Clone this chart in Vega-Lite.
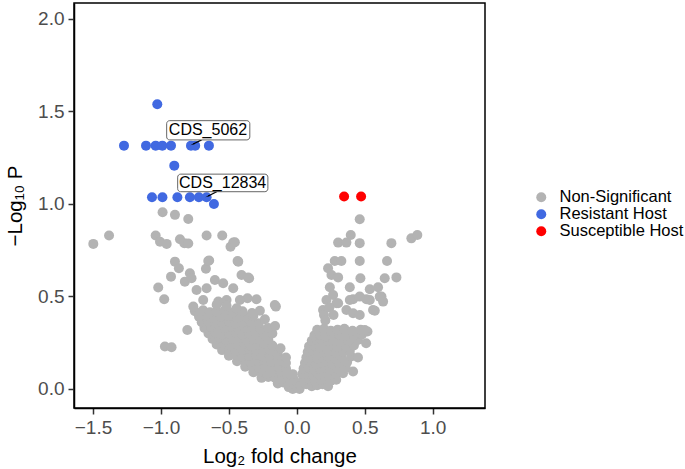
{
"$schema": "https://vega.github.io/schema/vega-lite/v6.json",
"autosize": {"type": "none"},
"padding": {"left": 74, "top": 3, "right": 200, "bottom": 61},
"width": 411,
"height": 405,
"config": {
  "view": {"stroke": "#000", "strokeWidth": 1.5},
  "font": "Liberation Sans",
  "axis": {"grid": false, "domain": true, "domainColor": "#000", "domainWidth": 1.5, "tickColor": "#333", "tickWidth": 1.5, "tickSize": 6, "labelFont": "Liberation Sans", "labelFontSize": 19, "labelColor": "#4D4D4D", "titleFont": "Liberation Sans", "titleFontSize": 20.5, "titleColor": "#000", "titleFontWeight": "normal"}
},
"datasets": {
"nonsig": [
{"lfc":-0.06,"nlp":0.01},{"lfc":-0.03,"nlp":0.0},{"lfc":0.0,"nlp":0.01},{"lfc":0.02,"nlp":0.0},
{"lfc":-0.14,"nlp":0.03},{"lfc":-0.1,"nlp":0.035},{"lfc":-0.06,"nlp":0.03},{"lfc":-0.02,"nlp":0.025},{"lfc":0.01,"nlp":0.03},
{"lfc":-0.26,"nlp":0.06},{"lfc":-0.21,"nlp":0.065},{"lfc":-0.16,"nlp":0.06},{"lfc":-0.11,"nlp":0.055},{"lfc":-0.06,"nlp":0.06},{"lfc":-0.02,"nlp":0.05},
{"lfc":-0.32,"nlp":0.09},{"lfc":-0.27,"nlp":0.095},{"lfc":-0.22,"nlp":0.085},{"lfc":-0.17,"nlp":0.09},{"lfc":-0.12,"nlp":0.095},{"lfc":-0.07,"nlp":0.085},{"lfc":-0.03,"nlp":0.08},
{"lfc":-0.38,"nlp":0.12},{"lfc":-0.33,"nlp":0.125},{"lfc":-0.28,"nlp":0.115},{"lfc":-0.23,"nlp":0.12},{"lfc":-0.18,"nlp":0.125},{"lfc":-0.13,"nlp":0.115},{"lfc":-0.08,"nlp":0.11},
{"lfc":-0.44,"nlp":0.15},{"lfc":-0.39,"nlp":0.155},{"lfc":-0.34,"nlp":0.145},{"lfc":-0.29,"nlp":0.15},{"lfc":-0.24,"nlp":0.155},{"lfc":-0.19,"nlp":0.145},{"lfc":-0.14,"nlp":0.15},{"lfc":-0.08,"nlp":0.14},
{"lfc":-0.5,"nlp":0.18},{"lfc":-0.45,"nlp":0.185},{"lfc":-0.4,"nlp":0.175},{"lfc":-0.35,"nlp":0.18},{"lfc":-0.3,"nlp":0.185},{"lfc":-0.25,"nlp":0.175},{"lfc":-0.2,"nlp":0.18},{"lfc":-0.14,"nlp":0.185},{"lfc":-0.08,"nlp":0.17},
{"lfc":-0.55,"nlp":0.21},{"lfc":-0.5,"nlp":0.215},{"lfc":-0.45,"nlp":0.205},{"lfc":-0.4,"nlp":0.21},{"lfc":-0.35,"nlp":0.215},{"lfc":-0.3,"nlp":0.205},{"lfc":-0.25,"nlp":0.21},{"lfc":-0.2,"nlp":0.215},{"lfc":-0.14,"nlp":0.205},
{"lfc":-0.59,"nlp":0.24},{"lfc":-0.54,"nlp":0.245},{"lfc":-0.49,"nlp":0.235},{"lfc":-0.44,"nlp":0.24},{"lfc":-0.39,"nlp":0.245},{"lfc":-0.34,"nlp":0.235},{"lfc":-0.29,"nlp":0.24},{"lfc":-0.24,"nlp":0.245},{"lfc":-0.18,"nlp":0.235},{"lfc":-0.12,"nlp":0.22},
{"lfc":-0.62,"nlp":0.27},{"lfc":-0.57,"nlp":0.275},{"lfc":-0.52,"nlp":0.265},{"lfc":-0.47,"nlp":0.27},{"lfc":-0.42,"nlp":0.275},{"lfc":-0.37,"nlp":0.265},{"lfc":-0.32,"nlp":0.27},{"lfc":-0.27,"nlp":0.275},{"lfc":-0.21,"nlp":0.265},
{"lfc":-0.65,"nlp":0.3},{"lfc":-0.6,"nlp":0.305},{"lfc":-0.55,"nlp":0.295},{"lfc":-0.5,"nlp":0.3},{"lfc":-0.45,"nlp":0.305},{"lfc":-0.4,"nlp":0.295},{"lfc":-0.35,"nlp":0.3},{"lfc":-0.3,"nlp":0.305},{"lfc":-0.24,"nlp":0.295},{"lfc":-0.18,"nlp":0.3},
{"lfc":-0.68,"nlp":0.33},{"lfc":-0.63,"nlp":0.335},{"lfc":-0.58,"nlp":0.325},{"lfc":-0.53,"nlp":0.33},{"lfc":-0.48,"nlp":0.335},{"lfc":-0.43,"nlp":0.325},{"lfc":-0.38,"nlp":0.33},{"lfc":-0.33,"nlp":0.335},{"lfc":-0.27,"nlp":0.325},{"lfc":-0.21,"nlp":0.33},{"lfc":-0.16,"nlp":0.34},
{"lfc":-0.7,"nlp":0.36},{"lfc":-0.65,"nlp":0.365},{"lfc":-0.6,"nlp":0.355},{"lfc":-0.55,"nlp":0.36},{"lfc":-0.5,"nlp":0.365},{"lfc":-0.45,"nlp":0.355},{"lfc":-0.4,"nlp":0.36},{"lfc":-0.34,"nlp":0.365},{"lfc":-0.28,"nlp":0.355},
{"lfc":-0.72,"nlp":0.39},{"lfc":-0.66,"nlp":0.395},{"lfc":-0.61,"nlp":0.385},{"lfc":-0.56,"nlp":0.39},{"lfc":-0.5,"nlp":0.395},{"lfc":-0.44,"nlp":0.385},{"lfc":-0.38,"nlp":0.39},{"lfc":-0.32,"nlp":0.395},
{"lfc":-0.75,"nlp":0.42},{"lfc":-0.69,"nlp":0.425},{"lfc":-0.64,"nlp":0.415},{"lfc":-0.59,"nlp":0.42},{"lfc":-0.53,"nlp":0.425},{"lfc":-0.47,"nlp":0.415},{"lfc":-0.4,"nlp":0.42},{"lfc":-0.33,"nlp":0.41},
{"lfc":-1.498,"nlp":0.784},{"lfc":-1.382,"nlp":0.829},{"lfc":-1.039,"nlp":0.829},{"lfc":-1.007,"nlp":0.796},{"lfc":-0.958,"nlp":0.784},{"lfc":-0.86,"nlp":0.809},{"lfc":-0.828,"nlp":0.788},{"lfc":-0.799,"nlp":0.786},{"lfc":-0.664,"nlp":0.829},{"lfc":-0.549,"nlp":0.829},{"lfc":-0.468,"nlp":0.791},{"lfc":-0.488,"nlp":0.769},
{"lfc":-0.897,"nlp":0.688},{"lfc":-0.868,"nlp":0.652},{"lfc":-0.645,"nlp":0.694},{"lfc":-0.669,"nlp":0.65},{"lfc":-0.431,"nlp":0.688},{"lfc":-0.926,"nlp":0.607},{"lfc":-0.787,"nlp":0.625},{"lfc":-0.407,"nlp":0.616},{"lfc":-0.351,"nlp":0.598},{"lfc":-1.02,"nlp":0.548},{"lfc":-0.976,"nlp":0.485},{"lfc":-0.806,"nlp":0.319},{"lfc":-0.971,"nlp":0.229},{"lfc":-0.922,"nlp":0.225},
{"lfc":-0.154,"nlp":0.445},{"lfc":-0.297,"nlp":0.485},{"lfc":-0.363,"nlp":0.49},{"lfc":-0.272,"nlp":0.423},{"lfc":-0.235,"nlp":0.377},{"lfc":-0.988,"nlp":0.955},{"lfc":-0.897,"nlp":0.941},{"lfc":-0.799,"nlp":0.919},{"lfc":-0.456,"nlp":0.793},{"lfc":-0.436,"nlp":0.692},{"lfc":-0.652,"nlp":0.692},{"lfc":-0.358,"nlp":0.602},{"lfc":-0.162,"nlp":0.454},
{"lfc":-0.824,"nlp":0.58},{"lfc":-0.775,"nlp":0.598},{"lfc":-0.738,"nlp":0.535},{"lfc":-0.664,"nlp":0.544},{"lfc":-0.603,"nlp":0.589},{"lfc":-0.542,"nlp":0.571},{"lfc":-0.468,"nlp":0.544},{"lfc":-0.762,"nlp":0.445},{"lfc":-0.689,"nlp":0.481},{"lfc":-0.578,"nlp":0.472},{"lfc":-0.517,"nlp":0.481},{"lfc":-0.419,"nlp":0.481},{"lfc":-0.59,"nlp":0.455},{"lfc":-0.517,"nlp":0.45},{"lfc":-0.443,"nlp":0.436},
{"lfc":0.03,"nlp":0.02},{"lfc":0.07,"nlp":0.025},{"lfc":0.11,"nlp":0.015},{"lfc":0.15,"nlp":0.02},{"lfc":0.19,"nlp":0.025},{"lfc":0.23,"nlp":0.015},
{"lfc":0.05,"nlp":0.05},{"lfc":0.09,"nlp":0.055},{"lfc":0.13,"nlp":0.045},{"lfc":0.17,"nlp":0.05},{"lfc":0.21,"nlp":0.055},{"lfc":0.25,"nlp":0.045},{"lfc":0.29,"nlp":0.05},
{"lfc":0.04,"nlp":0.08},{"lfc":0.08,"nlp":0.085},{"lfc":0.12,"nlp":0.075},{"lfc":0.16,"nlp":0.08},{"lfc":0.2,"nlp":0.085},{"lfc":0.24,"nlp":0.075},{"lfc":0.29,"nlp":0.08},{"lfc":0.34,"nlp":0.085},
{"lfc":0.05,"nlp":0.11},{"lfc":0.09,"nlp":0.115},{"lfc":0.13,"nlp":0.105},{"lfc":0.17,"nlp":0.11},{"lfc":0.21,"nlp":0.115},{"lfc":0.25,"nlp":0.105},{"lfc":0.3,"nlp":0.11},{"lfc":0.36,"nlp":0.115},{"lfc":0.414,"nlp":0.094},
{"lfc":0.06,"nlp":0.14},{"lfc":0.1,"nlp":0.145},{"lfc":0.14,"nlp":0.135},{"lfc":0.18,"nlp":0.14},{"lfc":0.22,"nlp":0.145},{"lfc":0.26,"nlp":0.135},{"lfc":0.31,"nlp":0.14},{"lfc":0.37,"nlp":0.145},
{"lfc":0.07,"nlp":0.17},{"lfc":0.11,"nlp":0.175},{"lfc":0.15,"nlp":0.165},{"lfc":0.19,"nlp":0.17},{"lfc":0.23,"nlp":0.175},{"lfc":0.28,"nlp":0.165},{"lfc":0.33,"nlp":0.17},{"lfc":0.4,"nlp":0.175},{"lfc":0.45,"nlp":0.17},
{"lfc":0.08,"nlp":0.2},{"lfc":0.12,"nlp":0.205},{"lfc":0.16,"nlp":0.195},{"lfc":0.2,"nlp":0.2},{"lfc":0.24,"nlp":0.205},{"lfc":0.29,"nlp":0.195},{"lfc":0.34,"nlp":0.2},{"lfc":0.39,"nlp":0.205},
{"lfc":0.09,"nlp":0.23},{"lfc":0.13,"nlp":0.235},{"lfc":0.17,"nlp":0.225},{"lfc":0.21,"nlp":0.23},{"lfc":0.25,"nlp":0.235},{"lfc":0.3,"nlp":0.225},{"lfc":0.36,"nlp":0.23},{"lfc":0.42,"nlp":0.235},
{"lfc":0.11,"nlp":0.26},{"lfc":0.15,"nlp":0.265},{"lfc":0.19,"nlp":0.255},{"lfc":0.23,"nlp":0.26},{"lfc":0.27,"nlp":0.265},{"lfc":0.32,"nlp":0.255},{"lfc":0.38,"nlp":0.26},{"lfc":0.45,"nlp":0.265},{"lfc":0.51,"nlp":0.247},
{"lfc":0.13,"nlp":0.29},{"lfc":0.17,"nlp":0.295},{"lfc":0.21,"nlp":0.285},{"lfc":0.26,"nlp":0.29},{"lfc":0.31,"nlp":0.295},{"lfc":0.36,"nlp":0.285},{"lfc":0.42,"nlp":0.29},{"lfc":0.48,"nlp":0.295},
{"lfc":0.15,"nlp":0.32},{"lfc":0.2,"nlp":0.325},{"lfc":0.25,"nlp":0.315},{"lfc":0.3,"nlp":0.32},{"lfc":0.35,"nlp":0.325},{"lfc":0.41,"nlp":0.315},{"lfc":0.47,"nlp":0.32},{"lfc":0.52,"nlp":0.31},
{"lfc":0.463,"nlp":0.917},{"lfc":0.397,"nlp":0.832},{"lfc":0.304,"nlp":0.791},{"lfc":0.365,"nlp":0.791},{"lfc":0.463,"nlp":0.788},{"lfc":0.696,"nlp":0.788},{"lfc":0.843,"nlp":0.814},{"lfc":0.887,"nlp":0.832},
{"lfc":0.279,"nlp":0.692},{"lfc":0.328,"nlp":0.692},{"lfc":0.463,"nlp":0.692},{"lfc":0.664,"nlp":0.692},{"lfc":0.23,"nlp":0.652},{"lfc":0.255,"nlp":0.616},{"lfc":0.304,"nlp":0.603},{"lfc":0.468,"nlp":0.598},{"lfc":0.647,"nlp":0.598},{"lfc":0.733,"nlp":0.603},
{"lfc":0.243,"nlp":0.55},{"lfc":0.39,"nlp":0.55},{"lfc":0.537,"nlp":0.539},{"lfc":0.598,"nlp":0.55},{"lfc":0.267,"nlp":0.508},{"lfc":0.414,"nlp":0.485},{"lfc":0.512,"nlp":0.485},{"lfc":0.623,"nlp":0.499},{"lfc":0.218,"nlp":0.481},{"lfc":0.304,"nlp":0.463},{"lfc":0.635,"nlp":0.472},{"lfc":0.574,"nlp":0.423},
{"lfc":0.292,"nlp":0.463},{"lfc":0.39,"nlp":0.481},{"lfc":0.463,"nlp":0.499},{"lfc":0.537,"nlp":0.481},{"lfc":0.61,"nlp":0.499},{"lfc":0.193,"nlp":0.427},{"lfc":0.365,"nlp":0.427},{"lfc":0.414,"nlp":0.409},{"lfc":0.463,"nlp":0.4},{"lfc":0.561,"nlp":0.427},
{"lfc":0.2,"nlp":0.4},{"lfc":0.21,"nlp":0.37},{"lfc":0.24,"nlp":0.44},{"lfc":0.27,"nlp":0.4},{"lfc":0.5,"nlp":0.319}
],
"resistant": [
{"lfc":-1.027,"nlp":1.539},
{"lfc":-1.272,"nlp":1.315},{"lfc":-1.11,"nlp":1.315},{"lfc":-1.039,"nlp":1.315},{"lfc":-0.99,"nlp":1.315},{"lfc":-0.926,"nlp":1.315},{"lfc":-0.779,"nlp":1.315},{"lfc":-0.748,"nlp":1.315},{"lfc":-0.647,"nlp":1.315},
{"lfc":-0.902,"nlp":1.207},
{"lfc":-1.066,"nlp":1.036},{"lfc":-0.989,"nlp":1.036},{"lfc":-0.879,"nlp":1.036},{"lfc":-0.787,"nlp":1.036},{"lfc":-0.721,"nlp":1.036},{"lfc":-0.664,"nlp":1.036},{"lfc":-0.61,"nlp":1.0}
],
"susceptible": [
{"lfc":0.348,"nlp":1.04},{"lfc":0.473,"nlp":1.04}
],
"labels": [
{"gene":"CDS_5062","lfc":-0.762,"nlp":1.324,"lab_x":-0.654,"lab_y":1.398,"box_x1":-0.958,"box_x2":-0.346,"box_y1":1.346,"box_y2":1.45,"seg_x":-0.701,"seg_y":1.346},
{"gene":"CDS_12834","lfc":-0.652,"nlp":1.043,"lab_x":-0.546,"lab_y":1.114,"box_x1":-0.877,"box_x2":-0.213,"box_y1":1.066,"box_y2":1.161,"seg_x":-0.59,"seg_y":1.066}
]
},
"layer": [
{"data": {"name": "nonsig"}, "mark": {"type": "circle", "size": 100, "opacity": 1},
 "encoding": {
  "x": {"field": "lfc", "type": "quantitative", "scale": {"domain": [-1.64, 1.385], "nice": false, "zero": false},
        "axis": {"values": [-1.5, -1, -0.5, 0, 0.5, 1], "labelExpr": "replace(format(datum.value, '.1f'), '-', '−')", "title": "Log₂ fold change", "titleX": 205.5, "titleY": 54, "titleBaseline": "alphabetic", "labelPadding": 4}},
  "y": {"field": "nlp", "type": "quantitative", "scale": {"domain": [-0.103, 2.086], "nice": false, "zero": false},
        "axis": {"values": [0, 0.5, 1, 1.5, 2], "format": ".1f", "title": "−Log₁₀ P", "titleX": -53, "titleY": 202.5, "titleBaseline": "alphabetic", "titleAngle": -90, "labelPadding": 4}},
  "color": {"datum": "Non-Significant", "type": "nominal",
     "scale": {"domain": ["Non-Significant", "Resistant Host", "Susceptible Host"], "range": ["#B3B3B3", "#4169E1", "#FF0000"]},
     "legend": {"title": null, "orient": "none", "legendX": 459, "legendY": 186, "labelFontSize": 16.5, "labelColor": "#000", "labelFont": "Liberation Sans", "symbolSize": 100, "symbolType": "circle", "rowPadding": -1, "labelOffset": 10, "padding": 0, "symbolStrokeWidth": 0}}
 }},
{"data": {"name": "resistant"}, "mark": {"type": "circle", "size": 100, "opacity": 1},
 "encoding": {"x": {"field": "lfc", "type": "quantitative"}, "y": {"field": "nlp", "type": "quantitative"}, "color": {"datum": "Resistant Host", "type": "nominal"}}},
{"data": {"name": "susceptible"}, "mark": {"type": "circle", "size": 100, "opacity": 1},
 "encoding": {"x": {"field": "lfc", "type": "quantitative"}, "y": {"field": "nlp", "type": "quantitative"}, "color": {"datum": "Susceptible Host", "type": "nominal"}}},
{"data": {"name": "labels"}, "mark": {"type": "rule", "color": "#000", "strokeWidth": 1.3},
 "encoding": {"x": {"field": "seg_x", "type": "quantitative"}, "y": {"field": "seg_y", "type": "quantitative"}, "x2": {"field": "lfc"}, "y2": {"field": "nlp"}}},
{"data": {"name": "labels"}, "mark": {"type": "point", "shape": "wedge", "filled": true, "color": "#000", "size": 30, "angle": 245, "opacity": 1},
 "encoding": {"x": {"field": "lfc", "type": "quantitative"}, "y": {"field": "nlp", "type": "quantitative"}}},
{"data": {"name": "labels"}, "mark": {"type": "rect", "fill": "#fff", "stroke": "#555", "strokeWidth": 0.9, "cornerRadius": 3},
 "encoding": {"x": {"field": "box_x1", "type": "quantitative"}, "x2": {"field": "box_x2"}, "y": {"field": "box_y1", "type": "quantitative"}, "y2": {"field": "box_y2"}}},
{"data": {"name": "labels"}, "mark": {"type": "text", "font": "Liberation Sans", "fontSize": 16, "color": "#000", "align": "center", "baseline": "middle"},
 "encoding": {"x": {"field": "lab_x", "type": "quantitative"}, "y": {"field": "lab_y", "type": "quantitative"}, "text": {"field": "gene"}}}
]
}
